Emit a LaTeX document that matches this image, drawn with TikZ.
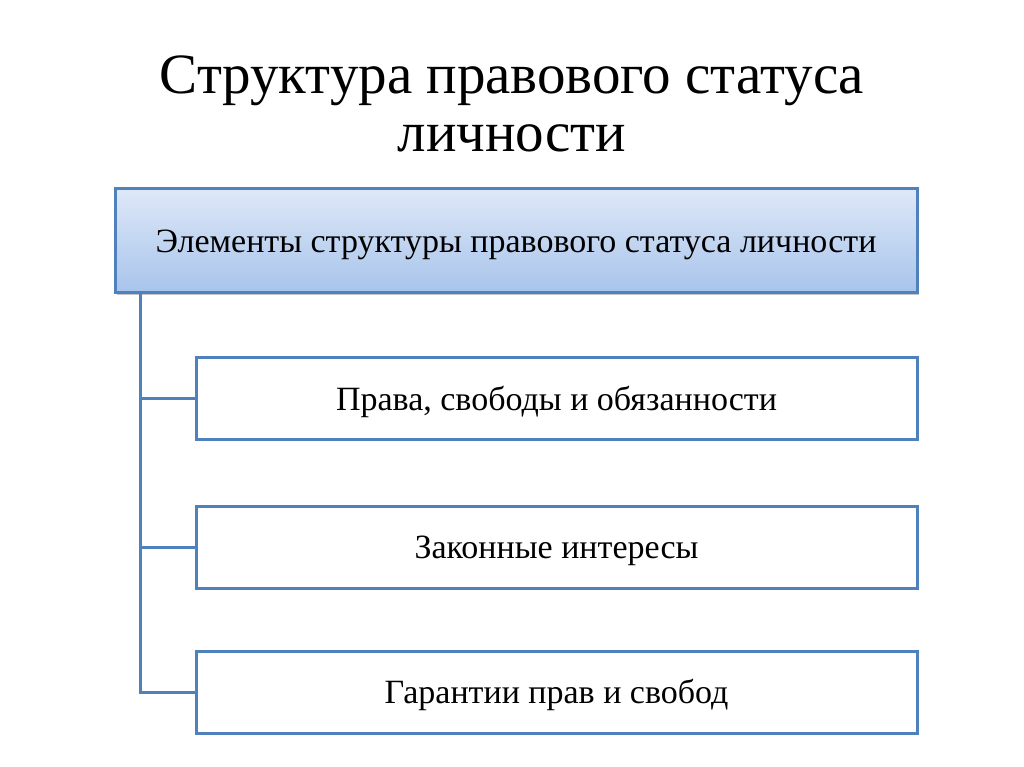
\documentclass[tikz,border=0pt]{standalone}
\usepackage{fontspec}
\setmainfont{Liberation Serif}
\usetikzlibrary{shadows}
\definecolor{boxline}{RGB}{79,129,189}
\definecolor{headtop}{RGB}{222,232,247}
\definecolor{headbot}{RGB}{168,196,236}

\tikzset{
  headbox/.style={draw=boxline, line width=3pt, minimum width=802pt, minimum height=103pt,
    top color=headtop, bottom color=headbot, drop shadow={opacity=0.45, shadow xshift=1.5pt, shadow yshift=-2.5pt}},
  itembox/.style={draw=boxline, line width=3pt, fill=white, minimum width=721pt, minimum height=82pt},
  link/.style={draw=boxline, line width=3pt}
}

\begin{document}
\begin{tikzpicture}[x=1pt, y=-1pt, every node/.style={font=\fontsize{34}{40}\selectfont, inner sep=0pt, text height=26pt, text depth=3pt}]
      \useasboundingbox (0, 0) rectangle (1024, 767);

      \node[align=center, font=\fontsize{57}{58}\selectfont, text height=, text depth=] (title) at (512, 104){Структура правового статуса\\личности};

      \node[headbox] (head) at (516, 240.5){Элементы структуры правового статуса личности};
      \node[itembox] (b1) at (556.5, 398.5){Права, свободы и обязанности};
      \node[itembox] (b2) at (556.5, 547){Законные интересы};
      \node[itembox] (b3) at (556.5, 692){Гарантии прав и свобод};
      \coordinate (v) at (140, 292);

      \draw[link] (v) |- (b1.west);
      \draw[link] (v) |- (b2.west);
      \draw[link] (v) |- (b3.west);

    \end{tikzpicture}
\end{document}
